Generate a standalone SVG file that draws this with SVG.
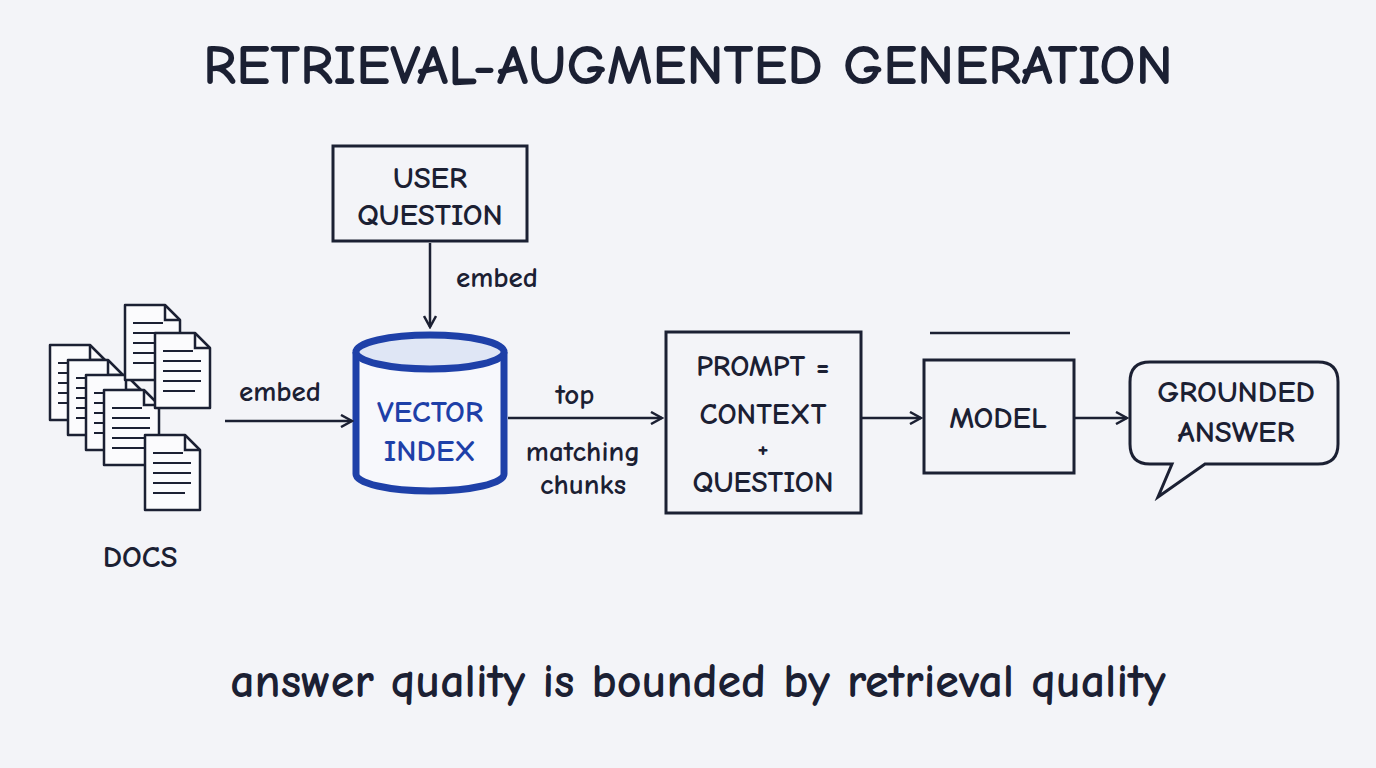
<svg xmlns="http://www.w3.org/2000/svg" width="1376" height="768" viewBox="0 0 1376 768">
<defs>
<style>
.t{font-family:"Comic Neue","Lato","Liberation Sans",sans-serif;fill:#1b2033;text-anchor:middle;font-weight:bold}
.box{fill:none;stroke:#1b2033;stroke-width:3}
.ln{fill:none;stroke:#1b2033;stroke-width:2.5}
.pg{fill:#fbfbfd;stroke:#1b2033;stroke-width:2.5;stroke-linejoin:round}
.tx{stroke:#1b2033;stroke-width:2}
</style>
<marker id="ah" markerWidth="14" markerHeight="14" refX="12" refY="7" orient="auto" markerUnits="userSpaceOnUse">
<path d="M1,1 L12,7 L1,13" fill="none" stroke="#1b2033" stroke-width="2.5"/>
</marker>
<g id="page">
<path class="pg" d="M0,0 H40 L55,15 V75 H0 Z"/>
<path class="ln" d="M40,0 V15 H55"/>
<path class="tx" d="M8,18 H38 M8,28 H46 M8,38 H46 M8,48 H46 M8,58 H40"/>
</g>
</defs>
<rect width="1376" height="768" fill="#f3f4f8"/>
<text class="t" x="688" y="84" font-size="57">RETRIEVAL-AUGMENTED GENERATION</text>

<g id="docs">
<use href="#page" x="50" y="345"/>
<use href="#page" x="68" y="360"/>
<use href="#page" x="86" y="375"/>
<use href="#page" x="104" y="390"/>
<use href="#page" x="125" y="305"/>
<use href="#page" x="155" y="333"/>
<use href="#page" x="145" y="435"/>
<text class="t" x="140" y="567" font-size="31">DOCS</text>
</g>

<g id="user-question">
<rect class="box" x="333" y="146" width="194" height="95"/>
<text class="t" x="430" y="188" font-size="31">USER</text>
<text class="t" x="430" y="225" font-size="31">QUESTION</text>
</g>

<g id="vector-index">
<path d="M356,352 V474 A74,17 0 0 0 504,474 V352" fill="#f7f8fc" stroke="#1e40a8" stroke-width="7"/>
<ellipse cx="430" cy="352" rx="74" ry="17" fill="#dfe6f5" stroke="#1e40a8" stroke-width="7"/>
<text class="t" x="430" y="422" font-size="31" style="fill:#1e40a8">VECTOR</text>
<text class="t" x="430" y="461" font-size="31" style="fill:#1e40a8">INDEX</text>
</g>

<g id="prompt">
<rect class="box" x="666" y="332" width="195" height="181"/>
<text class="t" x="763" y="376" font-size="30">PROMPT =</text>
<text class="t" x="763" y="424" font-size="30">CONTEXT</text>
<text class="t" x="763" y="457" font-size="26">+</text>
<text class="t" x="763" y="492" font-size="30">QUESTION</text>
</g>

<g id="model">
<path class="ln" d="M930,333 H1070"/>
<rect class="box" x="924" y="360" width="150" height="113"/>
<text class="t" x="998" y="428" font-size="31">MODEL</text>
</g>

<g id="answer">
<path class="box" d="M1150,362 H1318 Q1338,362 1338,382 V444 Q1338,464 1318,464 H1205 L1158,497 L1172,464 H1150 Q1130,464 1130,444 V382 Q1130,362 1150,362 Z"/>
<text class="t" x="1236" y="402" font-size="31">GROUNDED</text>
<text class="t" x="1236" y="442" font-size="31">ANSWER</text>
</g>

<g id="connectors">
<path class="ln" d="M430,243 V327" marker-end="url(#ah)"/>
<path class="ln" d="M225,421 H352" marker-end="url(#ah)"/>
<path class="ln" d="M508,418 H662" marker-end="url(#ah)"/>
<path class="ln" d="M861,418 H921" marker-end="url(#ah)"/>
<path class="ln" d="M1074,418 H1127" marker-end="url(#ah)"/>
<text class="t" x="497" y="287" font-size="29">embed</text>
<text class="t" x="280" y="401" font-size="29">embed</text>
<text class="t" x="575" y="404" font-size="29">top</text>
<text class="t" x="583" y="461" font-size="29">matching</text>
<text class="t" x="583" y="494" font-size="29">chunks</text>
</g>

<text class="t" x="698" y="697" font-size="48">answer quality is bounded by retrieval quality</text>
</svg>
